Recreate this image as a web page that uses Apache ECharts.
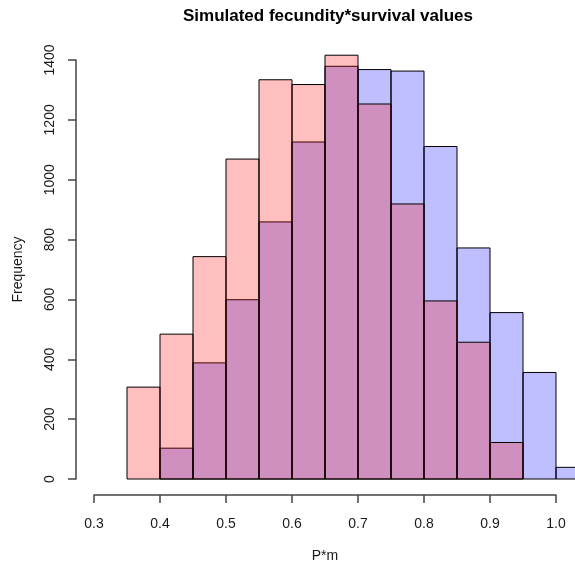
<!DOCTYPE html>
<html>
<head>
<meta charset="utf-8">
<script src="https://cdn.jsdelivr.net/npm/echarts@6/dist/echarts.min.js"></script>
<style>
  html, body { margin: 0; padding: 0; background: #fff; }
  #chart { width: 575px; height: 568px; }
</style>
</head>
<body>
<div id="chart"></div>
<script>
// Histogram bins (width 0.05) and counts for the two simulated samples
const binWidth = 0.05;
const redStarts = [0.35, 0.40, 0.45, 0.50, 0.55, 0.60, 0.65, 0.70, 0.75, 0.80, 0.85, 0.90];
const redCounts = [307, 484, 743, 1069, 1334, 1318, 1416, 1253, 919, 595, 457, 122];
const blueStarts = [0.40, 0.45, 0.50, 0.55, 0.60, 0.65, 0.70, 0.75, 0.80, 0.85, 0.90, 0.95, 1.00];
const blueCounts = [103, 388, 599, 859, 1126, 1379, 1368, 1363, 1111, 772, 556, 356, 39];
const xTicks = [0.3, 0.4, 0.5, 0.6, 0.7, 0.8, 0.9, 1.0];
const yTicks = [0, 200, 400, 600, 800, 1000, 1200, 1400];

const FONT = '"Liberation Sans", Arial, Helvetica, sans-serif';
const AXIS_COLOR = '#444';
const AXIS_WIDTH = 1.5;
const TEXT_COLOR = '#1a1a1a';

function binData(starts, counts) {
  return starts.map((s, i) => [s, s + binWidth, counts[i]]);
}

// Each bin is a rectangle from [start, 0] to [end, count]
function renderBar(fill) {
  return function (params, api) {
    const p0 = api.coord([api.value(0), 0]);
    const p1 = api.coord([api.value(1), api.value(2)]);
    return {
      type: 'rect',
      shape: { x: p0[0], y: p1[1], width: p1[0] - p0[0], height: p0[1] - p1[1] },
      style: { fill: fill, stroke: '#000', lineWidth: 1 }
    };
  };
}

const chart = echarts.init(document.getElementById('chart'), null, { renderer: 'canvas' });

chart.setOption({
  animation: false,
  backgroundColor: '#fff',
  title: {
    text: 'Simulated fecundity*survival values',
    left: 323,
    textAlign: 'center',
    top: 3,
    textStyle: { fontFamily: FONT, fontSize: 17, fontWeight: 'bold', color: '#000' }
  },
  grid: { left: 94, top: 60, width: 462, height: 419 },
  xAxis: {
    type: 'value',
    min: xTicks[0],
    max: xTicks[xTicks.length - 1],
    interval: 0.1,
    offset: 16,
    name: 'P*m',
    nameLocation: 'middle',
    nameGap: 54,
    nameTextStyle: { fontFamily: FONT, fontSize: 14, color: TEXT_COLOR },
    axisLine: { show: true, onZero: false, lineStyle: { color: AXIS_COLOR, width: AXIS_WIDTH } },
    axisTick: { show: true, inside: false, length: 8, lineStyle: { color: AXIS_COLOR, width: AXIS_WIDTH } },
    axisLabel: {
      margin: 22,
      fontFamily: FONT, fontSize: 14, color: TEXT_COLOR,
      formatter: v => v.toFixed(1)
    },
    splitLine: { show: false }
  },
  yAxis: {
    type: 'value',
    min: yTicks[0],
    max: yTicks[yTicks.length - 1],
    interval: 200,
    offset: 18,
    name: 'Frequency',
    nameLocation: 'middle',
    nameRotate: 90,
    nameGap: 51,
    nameTextStyle: { fontFamily: FONT, fontSize: 14, color: TEXT_COLOR },
    axisLine: { show: true, onZero: false, lineStyle: { color: AXIS_COLOR, width: AXIS_WIDTH } },
    axisTick: { show: true, inside: false, length: 8, lineStyle: { color: AXIS_COLOR, width: AXIS_WIDTH } },
    axisLabel: {
      rotate: 90,
      margin: 19,
      fontFamily: FONT, fontSize: 14, color: TEXT_COLOR,
      formatter: v => String(v)
    },
    splitLine: { show: false }
  },
  series: [
    {
      type: 'custom',
      name: 'blue',
      clip: false,
      renderItem: renderBar('rgba(0,0,255,0.25)'),
      encode: { x: [0, 1], y: 2 },
      data: binData(blueStarts, blueCounts)
    },
    {
      type: 'custom',
      name: 'red',
      clip: false,
      renderItem: renderBar('rgba(255,0,0,0.25)'),
      encode: { x: [0, 1], y: 2 },
      data: binData(redStarts, redCounts)
    }
  ]
});
</script>
</body>
</html>
